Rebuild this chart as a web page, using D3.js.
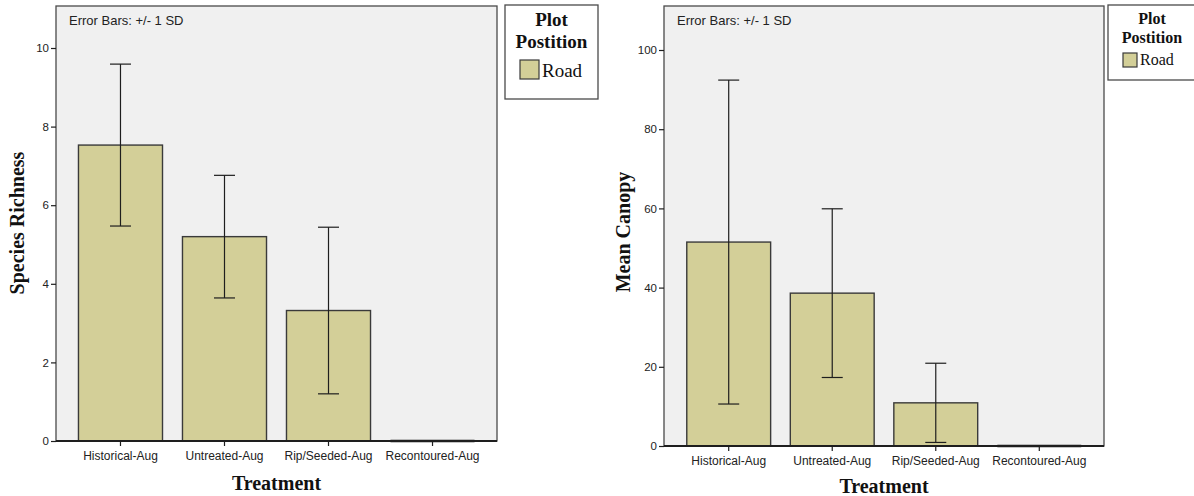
<!DOCTYPE html>
<html>
<head>
<meta charset="utf-8">
<script src="https://cdn.jsdelivr.net/npm/d3@7"></script>
<style>
  html, body { margin: 0; padding: 0; background: #ffffff; }
  svg { display: block; }
</style>
</head>
<body>
<svg id="chart" width="1194" height="496"></svg>
<script>
// ---- data ----
const treatments = ["Historical-Aug", "Untreated-Aug", "Rip/Seeded-Aug", "Recontoured-Aug"];
const richnessMean = [7.53, 5.20, 3.32, 0];
const richnessSD   = [2.06, 1.56, 2.12, 0];
const canopyMean   = [51.5, 38.6, 10.9, 0];
const canopySD     = [40.9, 21.3, 10.0, 0];
const richnessTicks = [0, 2, 4, 6, 8, 10];
const canopyTicks   = [0, 20, 40, 60, 80, 100];
const legendTitle = ["Plot", "Postition"];
const legendItems = ["Road"];
const errorNote = "Error Bars: +/- 1 SD";
const xTitle = "Treatment";
const richnessTitle = "Species Richness";
const canopyTitle = "Mean Canopy";

// ---- styles ----
const BAR_FILL = "#d3cf98";
const BAR_STROKE = "#3a3a3a";
const PANEL_BG = "#f0f0f0";
const SANS = "'Liberation Sans', Arial, sans-serif";
const SERIF = "'Liberation Serif', 'Times New Roman', serif";

const svg = d3.select("#chart");

function drawPanel(opt) {
  const g = svg.append("g");
  const rows = treatments.map((t, i) => ({ t, mean: opt.mean[i], sd: opt.sd[i] }));

  const x = d3.scaleBand()
    .domain(treatments)
    .range([opt.left, opt.right])
    .paddingInner(opt.padInner)
    .paddingOuter(opt.padOuter);

  const y = d3.scaleLinear()
    .domain([0, opt.ticks[opt.ticks.length - 1]])
    .range([opt.bottom, opt.yTopTick]);

  // plot background and frame
  g.append("rect")
    .attr("x", opt.left).attr("y", opt.top)
    .attr("width", opt.right - opt.left).attr("height", opt.bottom - opt.top)
    .attr("fill", PANEL_BG)
    .attr("stroke", "#4a4a4a").attr("stroke-width", 1.3);

  // bars
  g.selectAll("rect.bar")
    .data(rows.filter(d => d.mean > 0))
    .join("rect")
    .attr("class", "bar")
    .attr("x", d => x(d.t))
    .attr("y", d => y(d.mean))
    .attr("width", x.bandwidth())
    .attr("height", d => y(0) - y(d.mean))
    .attr("fill", BAR_FILL)
    .attr("stroke", BAR_STROKE)
    .attr("stroke-width", 1.4);

  // zero-height bars show as a flat outline along the baseline
  g.selectAll("line.zero")
    .data(rows.filter(d => d.mean === 0))
    .join("line")
    .attr("class", "zero")
    .attr("x1", d => x(d.t)).attr("x2", d => x(d.t) + x.bandwidth())
    .attr("y1", y(0)).attr("y2", y(0))
    .attr("stroke", "#111").attr("stroke-width", 2.5);

  // error bars (+/- 1 SD)
  const cap = 10.5;
  const eb = g.selectAll("g.err")
    .data(rows.filter(d => d.sd > 0))
    .join("g")
    .attr("class", "err")
    .attr("stroke", "#1e1e1e")
    .attr("stroke-width", 1.2);
  eb.append("line")
    .attr("x1", d => x(d.t) + x.bandwidth() / 2)
    .attr("x2", d => x(d.t) + x.bandwidth() / 2)
    .attr("y1", d => y(d.mean + d.sd))
    .attr("y2", d => y(Math.max(0, d.mean - d.sd)));
  eb.append("line")
    .attr("x1", d => x(d.t) + x.bandwidth() / 2 - cap)
    .attr("x2", d => x(d.t) + x.bandwidth() / 2 + cap)
    .attr("y1", d => y(d.mean + d.sd)).attr("y2", d => y(d.mean + d.sd));
  eb.append("line")
    .attr("x1", d => x(d.t) + x.bandwidth() / 2 - cap)
    .attr("x2", d => x(d.t) + x.bandwidth() / 2 + cap)
    .attr("y1", d => y(Math.max(0, d.mean - d.sd)))
    .attr("y2", d => y(Math.max(0, d.mean - d.sd)));

  // baseline
  g.append("line")
    .attr("x1", opt.left).attr("x2", opt.right)
    .attr("y1", y(0)).attr("y2", y(0))
    .attr("stroke", "#1e1e1e").attr("stroke-width", 2);

  // y axis
  const yAxis = g.append("g")
    .attr("transform", `translate(${opt.left},0)`)
    .call(d3.axisLeft(y).tickValues(opt.ticks).tickSize(5).tickPadding(2).tickFormat(d3.format("d")));
  yAxis.select(".domain").remove();
  yAxis.selectAll(".tick line").attr("stroke", "#1e1e1e").attr("stroke-width", 1.2);
  yAxis.selectAll(".tick text")
    .attr("font-family", SANS).attr("font-size", 11.5).attr("fill", "#222");

  // x axis
  const xAxis = g.append("g")
    .attr("transform", `translate(0,${opt.bottom})`)
    .call(d3.axisBottom(x).tickSize(5).tickPadding(5));
  xAxis.select(".domain").remove();
  xAxis.selectAll(".tick line").attr("stroke", "#1e1e1e").attr("stroke-width", 1.2);
  xAxis.selectAll(".tick text")
    .attr("font-family", SANS).attr("font-size", 12).attr("fill", "#222");

  // axis titles
  g.append("text")
    .attr("x", (opt.left + opt.right) / 2).attr("y", opt.xTitleY)
    .attr("text-anchor", "middle")
    .attr("font-family", SERIF).attr("font-weight", "bold").attr("font-size", opt.titleSize)
    .attr("fill", "#111")
    .text(xTitle);
  g.append("text")
    .attr("transform", `translate(${opt.yTitleX},${opt.yTitleMid}) rotate(-90)`)
    .attr("text-anchor", "middle")
    .attr("font-family", SERIF).attr("font-weight", "bold").attr("font-size", opt.titleSize)
    .attr("fill", "#111")
    .text(opt.yTitle);

  // error-bar note
  g.append("text")
    .attr("x", opt.left + 13).attr("y", opt.top + 19)
    .attr("font-family", SANS).attr("font-size", 13).attr("fill", "#222")
    .text(errorNote);

  // legend
  const L = opt.legend;
  const lg = g.append("g");
  lg.append("rect")
    .attr("x", L.x).attr("y", L.y).attr("width", L.w).attr("height", L.h)
    .attr("fill", "#fff").attr("stroke", "#4a4a4a").attr("stroke-width", 1.3);
  legendTitle.forEach((s, i) => {
    lg.append("text")
      .attr("x", L.x + L.w / 2).attr("y", L.y + L.t0 + i * L.tGap)
      .attr("text-anchor", "middle")
      .attr("font-family", SERIF).attr("font-weight", "bold").attr("font-size", L.tSize)
      .attr("fill", "#111")
      .text(s);
  });
  legendItems.forEach((s, i) => {
    lg.append("rect")
      .attr("x", L.sx).attr("y", L.sy).attr("width", L.ss).attr("height", L.ss)
      .attr("fill", BAR_FILL).attr("stroke", BAR_STROKE).attr("stroke-width", 1.2);
    lg.append("text")
      .attr("x", L.sx + L.ss + 3).attr("y", L.sy + L.ss - 2)
      .attr("font-family", SERIF).attr("font-size", L.iSize).attr("fill", "#111")
      .text(s);
  });
  return g;
}

drawPanel({
  mean: richnessMean, sd: richnessSD, ticks: richnessTicks, yTitle: richnessTitle,
  left: 56, right: 497, top: 6, bottom: 441, yTopTick: 48,
  padInner: 0.192, padOuter: 0.216,
  xTitleY: 490, yTitleX: 24, yTitleMid: 223, titleSize: 20,
  legend: { x: 505, y: 5, w: 93, h: 94, t0: 21, tGap: 22, tSize: 19,
            sx: 520, sy: 60, ss: 19, iSize: 19 }
});

drawPanel({
  mean: canopyMean, sd: canopySD, ticks: canopyTicks, yTitle: canopyTitle,
  left: 664, right: 1104, top: 6, bottom: 446, yTopTick: 50,
  padInner: 0.19, padOuter: 0.22,
  xTitleY: 493, yTitleX: 630, yTitleMid: 232, titleSize: 20,
  legend: { x: 1108, y: 5, w: 88, h: 75, t0: 19, tGap: 19, tSize: 16,
            sx: 1123, sy: 53, ss: 14, iSize: 16 }
});
</script>
</body>
</html>
